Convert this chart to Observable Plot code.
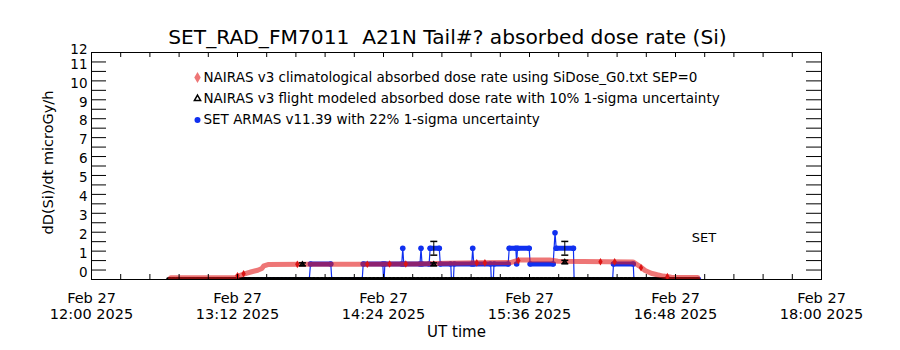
<!DOCTYPE html>
<html><head><meta charset="utf-8">
<script src="https://cdn.jsdelivr.net/npm/d3@7"></script>
<script src="https://cdn.jsdelivr.net/npm/@observablehq/plot@0.6"></script>
<style>
html,body{margin:0;padding:0;background:#fff;}
#chart{width:900px;height:350px;}
</style></head><body><div id="chart"></div>
<script>
// ---------- data ----------
const day = "2025-02-27";
const titleText = "SET_RAD_FM7011  A21N Tail#? absorbed dose rate (Si)";
const xAxisTitle = "UT time";
const yAxisTitle = "dD(Si)/dt microGy/h";
const annotationText = "SET";
const annotationTime = "17:02";
const annotationValue = 2.2;

const xTickTimes = ["12:00", "13:12", "14:24", "15:36", "16:48", "18:00"];
const xTickDates = ["Feb 27", "Feb 27", "Feb 27", "Feb 27", "Feb 27", "Feb 27"];
const xTickClock = ["12:00 2025", "13:12 2025", "14:24 2025", "15:36 2025", "16:48 2025", "18:00 2025"];
const yTickValues = [0,1,2,3,4,5,6,7,8,9,10,11,12];
const yTickLabels = ["0","1","2","3","4","5","6","7","8","9","10","11","12"];

const legendLabels = [
  "NAIRAS v3 climatological absorbed dose rate using SiDose_G0.txt SEP=0",
  "NAIRAS v3 flight modeled absorbed dose rate with 10% 1-sigma uncertainty",
  "SET ARMAS v11.39 with 22% 1-sigma uncertainty"
];

// NAIRAS climatological (red)
const climTimes  = ["12:39","13:11","13:12","13:15","13:19","13:22","13:24","13:25","13:27","13:45",
                    "14:10","14:40","14:55","15:10","15:27","15:31","15:46","15:50","16:27","16:31",
                    "16:33","16:36","16:39","16:42","16:46","16:59"];
const climValues = [0.09,0.10,0.17,0.28,0.41,0.49,0.58,0.72,0.79,0.80,
                    0.81,0.82,0.86,0.88,0.90,1.03,1.03,0.96,0.93,0.65,
                    0.48,0.33,0.25,0.18,0.12,0.10];
const climMarkTimes  = ["13:12","13:15","13:41:30","14:16","14:27","14:35","15:10","15:14","15:30:30","16:11","16:18","16:31","16:44"];
const climMarkValues = [0.20,0.30,0.80,0.81,0.82,0.82,0.88,0.88,1.00,0.94,0.94,0.62,0.15];

// NAIRAS flight modeled (black)
const flightZeroTimes  = ["12:38","16:59"];
const flightZeroValues = [0, 0];
const flightTimes  = ["13:44","14:48:48","15:53:24"];
const flightValues = [0.80, 0.80, 0.92];
const flightErrFrac = 0.10;

// SET ARMAS (blue)
const setTimes = ["12:43:00","13:47:24","13:48:00","13:58:00","13:58:30","14:13:30","14:14:00","14:23:40","14:24:00","14:24:20",
                  "14:24:40","14:33:00","14:33:30","14:34:00","14:42:00","14:42:30","14:43:00","14:46:30","14:47:00","14:51:30",
                  "14:52:00","14:57:10","14:57:30","14:58:30","14:58:50","15:07:30","15:08:00","15:08:30","15:16:50","15:17:10",
                  "15:18:10","15:18:30","15:25:30","15:26:00","15:29:15","15:29:40","15:30:05","15:35:50","15:36:20","15:47:40",
                  "15:48:35","15:49:10","15:57:40","15:58:00","16:17:00","16:17:25","16:27:10","16:27:30","16:59:20"];
const setValues = [0,0,0.82,0.82,0,0,0.82,0.82,0,0,
                   0.82,0.82,1.65,0.82,0.82,1.65,0.82,0.82,1.65,1.65,
                   0.82,0.82,0,0,0.82,0.82,1.65,0.82,0.82,0,
                   0,0.82,0.82,1.65,1.65,0.82,1.65,1.65,0.82,0.82,
                   2.47,1.65,1.65,0,0,0.82,0.82,0,0];
const setErrTimes  = ["14:48:48","15:53:24"];
const setErrValues = [1.65, 1.65];
const setErrFrac = 0.22;

// ---------- build ----------
const T = s => new Date(`${day}T${s.length === 5 ? s + ":00" : s}Z`);
const zip = (ts, vs) => ts.map((t, i) => ({t: T(t), v: vs[i]}));
const clim = zip(climTimes, climValues);
const climMarks = zip(climMarkTimes, climMarkValues);
const flightZero = zip(flightZeroTimes, flightZeroValues);
const flight = zip(flightTimes, flightValues).map(d => ({...d, lo: d.v*(1-flightErrFrac), hi: d.v*(1+flightErrFrac)}));
const setPts = zip(setTimes, setValues);
const setErr = zip(setErrTimes, setErrValues).map(d => ({...d, lo: d.v*(1-setErrFrac), hi: d.v*(1+setErrFrac)}));
const setRuns = [];
for (let i = 0; i < setPts.length - 1; i++)
  if (setPts[i].v === setPts[i+1].v) setRuns.push({t1: setPts[i].t, t2: setPts[i+1].t, v: setPts[i].v});
const xTicks = xTickTimes.map((t, i) => ({t: T(t), top: xTickDates[i], bottom: xTickClock[i]}));
const x0 = T(xTickTimes[0]), x1 = T(xTickTimes[xTickTimes.length-1]);
const nMinor = 25;
const xMinor = d3.range(nMinor + 1).map(i => new Date(+x0 + (x1 - x0) * i / nMinor));
const yMinor = d3.range(0, 12.01, 0.5);
const yTicks = yTickValues.map((v, i) => ({v, label: yTickLabels[i]}));
const yMax = yTickValues[yTickValues.length - 1];

const W = 900, H = 350, mL = 91, mR = 79, mT = 52, mB = 71;
const iW = W - mL - mR, iH = H - mT - mB;
const BLUE = "#1030f0", RED = "#dc1414";
const FONT = "DejaVu Sans";
const capSymbol = {draw(ctx, size) { const r = Math.sqrt(size / Math.PI); ctx.moveTo(-r, 0); ctx.lineTo(r, 0); }};

const chart = Plot.plot({
  width: W, height: H, marginLeft: mL, marginRight: mR, marginTop: mT, marginBottom: mB,
  style: {fontFamily: FONT, background: "white", color: "black"},
  x: {type: "utc", domain: [x0, x1], axis: null},
  y: {domain: [0, yMax], axis: null},
  marks: [
    // SET ARMAS
    Plot.line(setPts, {x: "t", y: "v", stroke: BLUE, strokeWidth: 1.2, clip: true}),
    Plot.link(setRuns, {x1: "t1", x2: "t2", y1: "v", y2: "v", stroke: BLUE, strokeWidth: 5, strokeLinecap: "round", clip: true}),
    Plot.dot(setPts, {x: "t", y: "v", r: 2.8, fill: BLUE, clip: true}),
    // flight modeled zero trace
    Plot.line(flightZero, {x: "t", y: "v", stroke: "black", strokeWidth: 5, strokeDasharray: "2,2", clip: true}),
    // climatological
    Plot.line(clim, {x: "t", y: "v", stroke: "url(#chk)", strokeWidth: 5, clip: true}),
    Plot.dot(climMarks, {x: "t", y: "v", symbol: "diamond", r: 2.3, fill: RED, clip: true}),
    // flight modeled points with error bars
    Plot.ruleX(flight, {x: "t", y1: "lo", y2: "hi", stroke: "black"}),
    Plot.dot(flight, {x: "t", y: "lo", symbol: capSymbol, r: 3.5, stroke: "black"}),
    Plot.dot(flight, {x: "t", y: "hi", symbol: capSymbol, r: 3.5, stroke: "black"}),
    Plot.dot(flight, {x: "t", y: "v", symbol: "triangle", r: 1.6, stroke: "black", fill: "none"}),
    // SET error bars
    Plot.ruleX(setErr, {x: "t", y1: "lo", y2: "hi", stroke: "black"}),
    Plot.dot(setErr, {x: "t", y: "lo", symbol: capSymbol, r: 3.5, stroke: "black"}),
    Plot.dot(setErr, {x: "t", y: "hi", symbol: capSymbol, r: 3.5, stroke: "black"}),
    // frame and ticks
    Plot.frame({stroke: "black"}),
    Plot.tickX(xMinor, {x: d => d, insetTop: iH - 5, stroke: "black"}),
    Plot.tickX(xMinor, {x: d => d, insetBottom: iH - 5, stroke: "black"}),
    Plot.tickY(yMinor, {y: d => d, insetRight: iW - 15, stroke: "black"}),
    Plot.tickY(yMinor, {y: d => d, insetLeft: iW - 15, stroke: "black"}),
    // tick labels
    Plot.text(xTicks, {x: "t", text: "top", frameAnchor: "bottom", lineAnchor: "middle", dy: 19, fontSize: 14.5, fill: "black"}),
    Plot.text(xTicks, {x: "t", text: "bottom", frameAnchor: "bottom", lineAnchor: "middle", dy: 35, fontSize: 14.5, fill: "black"}),
    Plot.text(yTicks.filter(d => d.v < yMax), {y: "v", text: "label", frameAnchor: "left", textAnchor: "end", lineAnchor: "middle", dx: -4, dy: -7, fontSize: 13.5, fill: "black"}),
    Plot.text(yTicks.filter(d => d.v >= yMax), {y: "v", text: "label", frameAnchor: "left", textAnchor: "end", lineAnchor: "middle", dx: -4, dy: -3, fontSize: 13.5, fill: "black"}),
    // titles
    Plot.text([titleText], {frameAnchor: "top", lineAnchor: "middle", dx: -9, dy: -15, fontSize: 20.2, fill: "black"}),
    Plot.text([xAxisTitle], {frameAnchor: "bottom", lineAnchor: "middle", dy: 53, fontSize: 15, fill: "black"}),
    Plot.text([yAxisTitle], {frameAnchor: "left", textAnchor: "middle", lineAnchor: "middle", rotate: -90, dx: -43, dy: -3.5, fontSize: 14.5, fill: "black"}),
    Plot.text([annotationText], {x: T(annotationTime), y: annotationValue, fontSize: 13, fill: "black"}),
    // legend
    ...legendLabels.map((lab, i) => Plot.text([lab], {frameAnchor: "top-left", textAnchor: "start", lineAnchor: "middle", dx: 112, dy: 25 + i * 21.2, fontSize: 13.5, fill: "black"})),
    Plot.dot([0], {frameAnchor: "top-left", dx: 106, dy: 25, symbol: "diamond", r: 3.4, fill: "url(#chk)"}),
    Plot.dot([0], {frameAnchor: "top-left", dx: 106, dy: 46.2, symbol: "triangle", r: 2.3, stroke: "black", fill: "none"}),
    Plot.dot([0], {frameAnchor: "top-left", dx: 106, dy: 67.4, r: 3, fill: BLUE})
  ]
});

// checker pattern for the climatological trace
const ns = "http://www.w3.org/2000/svg";
const defs = document.createElementNS(ns, "defs");
const pat = document.createElementNS(ns, "pattern");
pat.setAttribute("id", "chk"); pat.setAttribute("width", "2"); pat.setAttribute("height", "2");
pat.setAttribute("patternUnits", "userSpaceOnUse");
[[0,0,RED],[1,1,RED],[1,0,"rgba(255,40,40,0.18)"],[0,1,"rgba(255,40,40,0.18)"]].forEach(([x,y,c]) => {
  const r = document.createElementNS(ns, "rect");
  r.setAttribute("x", x); r.setAttribute("y", y); r.setAttribute("width", 1); r.setAttribute("height", 1);
  r.setAttribute("fill", c); pat.appendChild(r);
});
defs.appendChild(pat);
chart.insertBefore(defs, chart.firstChild);
document.getElementById("chart").appendChild(chart);
</script></body></html>
